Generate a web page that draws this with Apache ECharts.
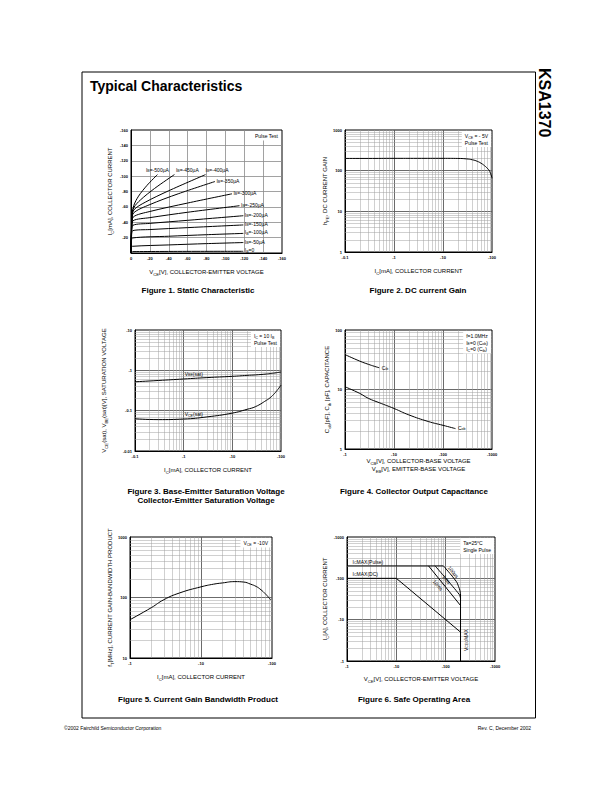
<!DOCTYPE html>
<html><head><meta charset="utf-8">
<script src="https://cdn.jsdelivr.net/npm/echarts@6/dist/echarts.min.js"></script>
<style>html,body{margin:0;padding:0;background:#fff}#c{width:612px;height:792px}</style>
</head><body><div id="c"></div>
<script>
// ---------- Figure 1: Static characteristic  [VCE (V), IC (mA)] ----------
const ib0   = [[0,0],[-2,-1.8],[-119,-2.2]];
const ib50  = [[0,0],[-0.5,-7],[-1.5,-8.7],[-40,-10.5],[-80,-12.2],[-119,-13.6]];
const ib100 = [[0,0],[-0.5,-15],[-1.5,-19.5],[-40,-21.8],[-80,-23.8],[-119,-25.5]];
const ib150 = [[0,0],[-0.6,-22],[-1.7,-29],[-20,-30.5],[-60,-33],[-119,-36.5]];
const ib200 = [[0,0],[-0.7,-28],[-2,-36],[-20,-38.5],[-60,-42.5],[-119,-48.5]];
const ib250 = [[0,0],[-0.8,-33],[-2.2,-42],[-20,-46],[-60,-53],[-115,-61.5]];
const ib300 = [[0,0],[-0.9,-37],[-2.5,-47],[-20,-54],[-60,-65],[-107,-77]];
const ib350 = [[0,0],[-1,-41],[-2.7,-52],[-20,-63],[-50,-77],[-89,-93]];
const ib400 = [[0,0],[-1,-44],[-3,-56],[-15,-66],[-40,-81],[-79,-102]];
const ib450 = [[0,0],[-1,-47],[-3,-59],[-10,-69],[-25,-84],[-46,-102]];
const ib500 = [[0,0],[-1,-50],[-3,-62],[-8,-74],[-17,-88],[-28,-102]];
const ibLabels = ['0','-50µA','-100µA','-150µA','-200µA','-250µA','-300µA','-350µA','-400µA','-450µA','-500µA'];

// ---------- Figure 2: DC current gain ----------
const hfeIc = [-0.1,-0.3,-1,-3,-10,-20,-30,-40,-50,-60,-70,-80,-90,-100];
const hfe   = [200,200,201,201,201,200,195,185,170,152,133,115,96,65];

// ---------- Figure 3: saturation voltages ----------
const satIc  = [-0.1,-0.3,-1,-3,-10,-20,-30,-50,-60,-70,-80,-90,-100];
const vbeSat = [-0.52,-0.56,-0.61,-0.66,-0.71,-0.75,-0.77,-0.81,-0.83,-0.85,-0.87,-0.89,-0.90];
const vceSat = [-0.063,-0.060,-0.062,-0.070,-0.087,-0.108,-0.126,-0.18,-0.21,-0.25,-0.30,-0.36,-0.43];

// ---------- Figure 4: capacitance ----------
const cibV = [-1,-2,-3,-4,-5];
const cib  = [38.6,30,26.5,24.5,23.2];
const cobV = [-1,-2,-3,-5,-10,-20,-50,-100,-180];
const cob  = [11.1,8.6,7.1,6.0,4.8,3.75,2.9,2.5,2.2];

// ---------- Figure 5: fT ----------
const ftIc = [-1,-2,-3,-5,-10,-15,-20,-30,-40,-50,-60,-70,-80,-90,-96];
const ft   = [43,68,92,119,150,166,174,183,180,166,152,134,116,100,91];

// ---------- Figure 6: safe operating area [VCE (V), IC (mA)] ----------
const icMaxPulse = [[-1,-200],[-90,-200]];
const icMaxDC    = [[-1,-100],[-10,-100],[-200,-5]];
const soa10ms    = [[-45,-200],[-200,-22]];
const soa1ms     = [[-61,-200],[-188,-41],[-200,-33]];
const soa100us   = [[-90,-200],[-163,-85],[-183,-63],[-195,-50],[-200,-40]];
const vceoMax    = [[-200,-42],[-200,-1]];

// ---------- helpers ----------
const FONT = "'Liberation Sans', Arial, Helvetica, sans-serif";
const abs2 = (xs, ys) => xs.map((x, i) => [Math.abs(x), Math.abs(ys[i])]);
const absP = pts => pts.map(p => [Math.abs(p[0]), Math.abs(p[1])]);
const fmtN = v => String(+(+v).toPrecision(4));
const negL = v => '-' + fmtN(Math.abs(v));
const posL = v => fmtN(v);

const NAME_RICH = {
  t: {fontSize: 6, fontFamily: FONT, color: '#000', lineHeight: 8},
  s: {fontSize: 4.2, fontFamily: FONT, color: '#000', verticalAlign: 'bottom', lineHeight: 8}
};

function ax(gi, type, min, max, name, gap, fmt, extra) {
  const o = {
    gridIndex: gi, type, min, max, name, nameLocation: 'middle', nameGap: gap,
    nameTextStyle: {fontSize: 6, fontFamily: FONT, color: '#000', rich: NAME_RICH},
    axisLine: {show: true, onZero: false, lineStyle: {color: '#000', width: 1}},
    axisTick: {show: false},
    axisLabel: {fontSize: 4, fontWeight: 'bold', color: '#000', margin: 3, fontFamily: FONT,
      formatter: fmt, showMinLabel: true, showMaxLabel: true, hideOverlap: false},
    splitLine: {show: true, showMinLine: false, showMaxLine: false,
      lineStyle: {color: type === 'log' ? '#5a5a5a' : '#8a8a8a', width: type === 'log' ? 0.9 : 0.8}}
  };
  if (type === 'log') o.logBase = 10;
  return Object.assign(o, extra || {});
}

function minors(lo, hi) {
  const out = [];
  for (let e = Math.floor(Math.log10(lo)); Math.pow(10, e) < hi; e++) {
    for (let m = 2; m <= 9; m++) {
      const v = +(m * Math.pow(10, e)).toPrecision(3);
      if (v > lo && v < hi) out.push(v);
    }
  }
  return out;
}
function gridMarks(xlo, xhi, ylo, yhi) {
  return {
    silent: true, symbol: ['none', 'none'], z: 1, animation: false,
    label: {show: false}, emphasis: {disabled: true},
    lineStyle: {color: '#a0a0a0', width: 0.5, type: 'solid'},
    data: [...minors(xlo, xhi).map(v => ({xAxis: v})), ...minors(ylo, yhi).map(v => ({yAxis: v}))]
  };
}
function S(gi, data, extra) {
  return Object.assign({
    type: 'line', xAxisIndex: gi, yAxisIndex: gi, data, showSymbol: false, symbol: 'none',
    silent: true, animation: false, z: 3,
    lineStyle: {color: '#000', width: 1}
  }, extra || {});
}

const grids = [
  {left: 131, top: 130, width: 151, height: 123},
  {left: 345, top: 130, width: 147, height: 122},
  {left: 135, top: 330, width: 146, height: 121},
  {left: 345, top: 330, width: 147, height: 119},
  {left: 130, top: 537, width: 142, height: 121},
  {left: 347, top: 537, width: 148, height: 124}
].map(g => Object.assign(g, {show: true, borderColor: '#000', borderWidth: 1, backgroundColor: '#fff'}));

const nIc = '{t|I}{s|C}{t|[mA], COLLECTOR CURRENT}';
const nVce = '{t|V}{s|CE}{t|[V], COLLECTOR-EMITTER VOLTAGE}';

const xAxes = [
  ax(0, 'value', -160, 0, nVce, 15, v => String(v), {interval: 20, inverse: true}),
  ax(1, 'log', 0.1, 100, nIc, 15, negL),
  ax(2, 'log', 0.1, 100, nIc, 15, negL),
  ax(3, 'log', 1, 1000, '{t|V}{s|CB}{t|[V], COLLECTOR-BASE VOLTAGE}\n{t|V}{s|EB}{t|[V], EMITTER-BASE VOLTAGE}', 8, negL),
  ax(4, 'log', 1, 100, nIc, 15, negL),
  ax(5, 'log', 1, 1000, nVce, 14, negL)
];
const yAxes = [
  ax(0, 'value', -160, 0, '{t|I}{s|C}{t|[mA], COLLECTOR CURRENT}', 17, v => v === 0 ? '' : String(v), {interval: 20, inverse: true}),
  ax(1, 'log', 1, 1000, '{t|h}{s|FE}{t|, DC CURRENT GAIN}', 14, posL),
  ax(2, 'log', 0.01, 10, '{t|V}{s|CE}{t|(sat), V}{s|BE}{t|(sat)[V], SATURATION VOLTAGE}', 27, negL),
  ax(3, 'log', 1, 100, '{t|C}{s|ob}{t|[pF], C}{s|ib}{t| [pF], CAPACITANCE}', 11, posL),
  ax(4, 'log', 10, 1000, '{t|f}{s|T}{t|[MHz], CURRENT GAIN-BANDWIDTH PRODUCT}', 14, posL),
  ax(5, 'log', 1, 1000, '{t|I}{s|C}{t|[A], COLLECTOR CURRENT}', 18, negL)
];

const fig1 = [ib0, ib50, ib100, ib150, ib200, ib250, ib300, ib350, ib400, ib450, ib500];
const series = [];
fig1.forEach(d => series.push(S(0, d, {smooth: 0.3})));
series.push(S(1, abs2(hfeIc, hfe), {smooth: true, markLine: gridMarks(0.1, 100, 1, 1000)}));
series.push(S(2, abs2(satIc, vbeSat), {smooth: true, markLine: gridMarks(0.1, 100, 0.01, 10)}));
series.push(S(2, abs2(satIc, vceSat), {smooth: true}));
series.push(S(3, abs2(cibV, cib), {smooth: true, markLine: gridMarks(1, 1000, 1, 100)}));
series.push(S(3, abs2(cobV, cob), {smooth: true}));
series.push(S(4, abs2(ftIc, ft), {smooth: true, markLine: gridMarks(1, 100, 10, 1000)}));
series.push(S(5, absP(icMaxPulse), {markLine: gridMarks(1, 1000, 1, 1000)}));
series.push(S(5, absP(icMaxDC)));
series.push(S(5, absP(soa10ms)));
series.push(S(5, absP(soa1ms), {smooth: 0.3}));
series.push(S(5, absP(soa100us), {smooth: 0.4}));
series.push(S(5, absP(vceoMax)));

const chart = echarts.init(document.getElementById('c'), null, {renderer: 'svg', width: 612, height: 792});
chart.setOption({
  animation: false, backgroundColor: '#fff',
  grid: grids, xAxis: xAxes, yAxis: yAxes, series
});

// ---------- text annotations ----------
const LR = {
  t: {fontSize: 5, fontFamily: FONT, fill: '#000', lineHeight: 6.5, align: 'left'},
  s: {fontSize: 3.6, fontFamily: FONT, fill: '#000', lineHeight: 6.5, verticalAlign: 'bottom', align: 'left'}
};
function T(x, y, text, o) {
  o = o || {};
  const st = {text, fontFamily: FONT, fontSize: o.size || 5, fontWeight: o.weight || 'normal', fill: '#000',
    align: o.align || 'left', verticalAlign: o.valign || 'middle'};
  if (o.rich) st.rich = o.rich;
  if (o.bg) { st.backgroundColor = o.bg; st.padding = o.pad || [2, 3, 2, 3]; }
  if (o.lh) st.lineHeight = o.lh;
  return {type: 'text', x, y, rotation: o.rot || 0, silent: true, z: 50, style: st};
}
const P = (g, x, y) => chart.convertToPixel({gridIndex: g}, [x, y]);
const G = [];

// page frame & headings
G.push({type: 'rect', silent: true, z: 40, shape: {x: 82, y: 72, width: 453.5, height: 646},
  style: {fill: 'none', stroke: '#000', lineWidth: 1}});
G.push(T(90, 86, 'Typical Characteristics', {size: 14, weight: 'bold'}));
G.push(T(544, 68, 'KSA1370', {size: 16, weight: 'bold', rot: -Math.PI / 2, valign: 'middle'}));
G.push(T(64, 728, '©2002 Fairchild Semiconductor Corporation', {size: 5}));
G.push(T(531, 728, 'Rev. C, December 2002', {size: 5, align: 'right'}));

// captions
G.push(T(198, 290, 'Figure 1. Static Characteristic', {size: 8, weight: 'bold', align: 'center'}));
G.push(T(418, 290, 'Figure 2. DC current Gain', {size: 8, weight: 'bold', align: 'center'}));
G.push(T(206, 491, 'Figure 3. Base-Emitter Saturation Voltage', {size: 8, weight: 'bold', align: 'center'}));
G.push(T(206, 500, 'Collector-Emitter Saturation Voltage', {size: 8, weight: 'bold', align: 'center'}));
G.push(T(414, 491, 'Figure 4. Collector Output Capacitance', {size: 8, weight: 'bold', align: 'center'}));
G.push(T(198, 699, 'Figure 5. Current Gain Bandwidth Product', {size: 8, weight: 'bold', align: 'center'}));
G.push(T(414, 699, 'Figure 6. Safe Operating Area', {size: 8, weight: 'bold', align: 'center'}));

// Figure 1 curve labels
fig1.forEach((d, i) => {
  const e = d[d.length - 1];
  const p = P(0, e[0], e[1]);
  const txt = '{t|I}{s|B}{t|=' + ibLabels[i] + '}';
  if (i < 8) G.push(T(p[0] + 1.5, p[1] - 1, txt, {rich: LR}));
  else if (i === 10) G.push(T(p[0], p[1] - 5, txt, {rich: LR, align: 'center'}));
  else G.push(T(p[0] + (i === 9 ? 1.5 : 0), p[1] - 5, txt, {rich: LR}));
});

// boxes in the upper right corners
const BOX = (g, xr, yt, text) => { const p = P(g, xr, yt); return T(p[0] - 1, p[1] + 1, text, {rich: LR, align: 'right', valign: 'top', bg: '#fff', pad: [2, 3, 1, 3]}); };
G.push(BOX(0, -160, -160, '{t|Pulse Test}'));
G.push(BOX(1, 100, 1000, '{t|V}{s|CE}{t| = - 5V}\n{t|Pulse Test}'));
G.push(BOX(2, 100, 10, '{t|I}{s|C}{t| = 10 I}{s|B}\n{t|Pulse Test}'));
G.push(BOX(3, 1000, 100, '{t|f=1.0MHz}\n{t|I}{s|E}{t|=0 (C}{s|ob}{t|)}\n{t|I}{s|C}{t|=0 (C}{s|ib}{t|)}'));
G.push(BOX(4, 100, 1000, '{t|V}{s|CE}{t| = -10V}'));
G.push(BOX(5, 1000, 1000, '{t|Ta=25°C}\n{t|Single Pulse}'));

// Figure 3 labels
{
  const i1 = satIc.indexOf(-1);
  const a = P(2, 1, Math.abs(vbeSat[i1]));
  G.push(T(a[0] + 1, a[1] - 1.5, '{t|V}{s|BE}{t|(sat)}', {rich: LR, valign: 'bottom'}));
  const b = P(2, 1, Math.abs(vceSat[i1]));
  G.push(T(b[0] + 1, b[1] - 1.5, '{t|V}{s|CE}{t|(sat)}', {rich: LR, valign: 'bottom'}));
}
// Figure 4 labels
{
  const a = P(3, Math.abs(cibV[cibV.length - 1]), cib[cib.length - 1]);
  G.push(T(a[0] + 2.5, a[1], '{t|C}{s|ib}', {rich: LR}));
  const b = P(3, Math.abs(cobV[cobV.length - 1]), cob[cob.length - 1]);
  G.push(T(b[0] + 2.5, b[1] - 1, '{t|C}{s|ob}', {rich: LR}));
}
// Figure 6 labels
{
  const a = P(5, 1.3, 200);
  G.push(T(a[0], a[1] - 1, '{t|I}{s|C}{t|MAX(Pulse)}', {rich: LR, valign: 'bottom'}));
  const b = P(5, 1.3, 100);
  G.push(T(b[0], b[1] - 1, '{t|I}{s|C}{t|MAX(DC)}', {rich: LR, valign: 'bottom'}));
  const rot = -50 * Math.PI / 180;
  const c1 = P(5, 143, 143); G.push(T(c1[0], c1[1], '{t|100µs}', {rich: LR, align: 'center', rot}));
  const c2 = P(5, 105, 94);  G.push(T(c2[0], c2[1], '{t|1ms}', {rich: LR, align: 'center', rot}));
  const c3 = P(5, 70, 68);   G.push(T(c3[0], c3[1], '{t|10ms}', {rich: LR, align: 'center', rot}));
  const d = P(5, 200, 3.2);
  G.push(T(d[0] + 5, d[1], '{t|V}{s|CEO}{t|MAX}', {rich: LR, align: 'center', rot: Math.PI / 2}));
}

chart.setOption({graphic: G});
</script></body></html>
